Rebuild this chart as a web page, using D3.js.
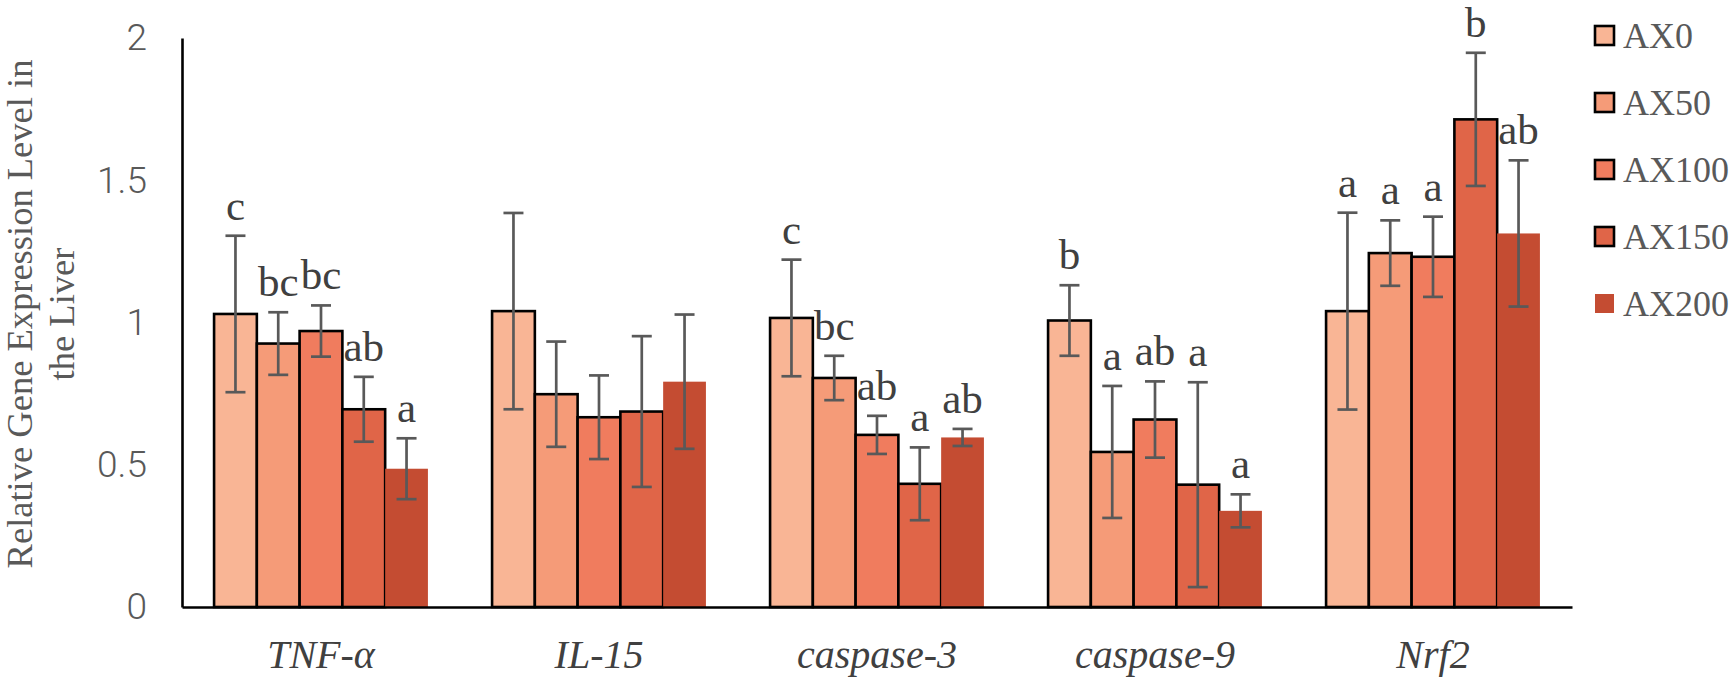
<!DOCTYPE html>
<html>
<head>
<meta charset="utf-8">
<script src="https://cdn.jsdelivr.net/npm/d3@7"></script>
<style>
    body { margin: 0; background: #fff; }
    svg { display: block; }
</style>
</head>
<body>
<div id="chart"></div>
<script>
// genes on the x axis, treatment groups as series
var genes = ["TNF-α", "IL-15", "caspase-3", "caspase-9", "Nrf2"];
var groups = ["AX0", "AX50", "AX100", "AX150", "AX200"];

// mean relative expression, one array per group (order follows genes)
var AX0 = [1.03, 1.04, 1.016, 1.007, 1.04];
var AX50 = [0.926, 0.748, 0.805, 0.545, 1.244];
var AX100 = [0.97, 0.667, 0.605, 0.659, 1.231];
var AX150 = [0.695, 0.687, 0.433, 0.43, 1.714];
var AX200 = [0.486, 0.792, 0.596, 0.338, 1.313];

// error bar half-lengths
var AX0_err = [0.275, 0.345, 0.205, 0.124, 0.346];
var AX50_err = [0.11, 0.185, 0.078, 0.232, 0.115];
var AX100_err = [0.09, 0.147, 0.067, 0.134, 0.141];
var AX150_err = [0.114, 0.265, 0.128, 0.36, 0.234];
var AX200_err = [0.107, 0.236, 0.03, 0.058, 0.257];

// significance letters
var AX0_sig = ["c", "", "c", "b", "a"];
var AX50_sig = ["bc", "", "bc", "a", "a"];
var AX100_sig = ["bc", "", "ab", "ab", "a"];
var AX150_sig = ["ab", "", "a", "a", "b"];
var AX200_sig = ["a", "", "ab", "a", "ab"];

var yTicks = [0, 0.5, 1, 1.5, 2];
var yTitle = ["Relative Gene Expression Level in", "the Liver"];

var colors = ["#f9b595", "#f59b78", "#f07c5e", "#e06548", "#c44c32"];
var outlined = [true, true, true, true, false];

var means = [AX0, AX50, AX100, AX150, AX200],
    errs = [AX0_err, AX50_err, AX100_err, AX150_err, AX200_err],
    sigs = [AX0_sig, AX50_sig, AX100_sig, AX150_sig, AX200_sig];

var rows = [];
genes.forEach(function(g, gi) {
    groups.forEach(function(s, si) {
        rows.push({gene: g, group: s, si: si, value: means[si][gi], err: errs[si][gi], sig: sigs[si][gi]});
    });
});

var svg = d3.select("#chart").append("svg").attr("width", 1730).attr("height", 680),
    margin = {top: 38, right: 158, bottom: 73, left: 182},
    width = 1730 - margin.left - margin.right,
    height = 680 - margin.top - margin.bottom,
    g = svg.append("g").attr("transform", "translate(" + margin.left + "," + margin.top + ")");

var x0 = d3.scaleBand().domain(genes).range([0, width]).paddingInner(1.5 / 6.5).paddingOuter(0.75 / 6.5),
    x1 = d3.scaleBand().domain(groups).range([0, x0.bandwidth()]),
    y = d3.scaleLinear().domain([0, 2]).range([height, 0]),
    z = d3.scaleOrdinal().domain(groups).range(colors);

// bars
g.selectAll(".bar")
    .data(rows)
    .enter().append("rect")
    .attr("class", "bar")
    .attr("x", function(d) { return x0(d.gene) + x1(d.group); })
    .attr("y", function(d) { return y(d.value); })
    .attr("width", x1.bandwidth())
    .attr("height", function(d) { return height - y(d.value); })
    .style("fill", function(d) { return z(d.group); })
    .style("stroke", function(d) { return outlined[d.si] ? "#000" : "none"; })
    .style("stroke-width", 2.6);

// error bars
var eb = g.selectAll(".err")
    .data(rows)
    .enter().append("g")
    .attr("class", "err")
    .attr("transform", function(d) { return "translate(" + (x0(d.gene) + x1(d.group) + x1.bandwidth() / 2) + ",0)"; })
    .style("stroke", "#595959")
    .style("stroke-width", 2.7);

eb.append("line")
    .attr("y1", function(d) { return y(d.value + d.err); })
    .attr("y2", function(d) { return y(d.value - d.err); });
eb.append("line")
    .attr("x1", -10).attr("x2", 10)
    .attr("y1", function(d) { return y(d.value + d.err); })
    .attr("y2", function(d) { return y(d.value + d.err); });
eb.append("line")
    .attr("x1", -10).attr("x2", 10)
    .attr("y1", function(d) { return y(d.value - d.err); })
    .attr("y2", function(d) { return y(d.value - d.err); });

// letters
g.selectAll(".sig")
    .data(rows.filter(function(d) { return d.sig; }))
    .enter().append("text")
    .attr("class", "sig")
    .attr("x", function(d) { return x0(d.gene) + x1(d.group) + x1.bandwidth() / 2; })
    .attr("y", function(d) { return y(d.value + d.err) - 16; })
    .attr("text-anchor", "middle")
    .style("font", "43px 'Liberation Serif', 'Times New Roman', serif")
    .style("fill", "#404040")
    .text(function(d) { return d.sig; });

// y axis
var yAxis = g.append("g")
    .attr("class", "axis axis--y")
    .call(d3.axisLeft(y).tickValues(yTicks).tickSize(0).tickPadding(35).tickFormat(d3.format("")));
yAxis.select(".domain").style("stroke", "#000").style("stroke-width", 2.6);
yAxis.selectAll("text")
    .style("font-family", "Roboto, 'Noto Sans', sans-serif")
    .style("font-weight", 300)
    .style("font-size", "37px")
    .style("fill", "#595959");

// x axis
var xAxis = g.append("g")
    .attr("class", "axis axis--x")
    .attr("transform", "translate(0," + height + ")")
    .call(d3.axisBottom(x0).tickSize(0).tickPadding(33));
xAxis.select(".domain").style("stroke", "#000").style("stroke-width", 2.6);
xAxis.selectAll("text")
    .style("font-family", "'Liberation Serif', 'Times New Roman', serif")
    .style("font-style", "italic")
    .style("font-size", "40px")
    .style("fill", "#404040");

// y title
svg.selectAll(".ytitle")
    .data(yTitle)
    .enter().append("text")
    .attr("class", "ytitle")
    .attr("transform", function(d, i) { return "translate(" + (32 + i * 42) + ",314) rotate(-90)"; })
    .attr("text-anchor", "middle")
    .style("font", "36.5px 'Liberation Serif', 'Times New Roman', serif")
    .style("fill", "#595959")
    .text(function(d) { return d; });

// legend
var legend = svg.selectAll(".legend")
    .data(groups)
    .enter().append("g")
    .attr("class", "legend")
    .attr("transform", function(d, i) { return "translate(1595," + (36 + i * 67) + ")"; });

legend.append("rect")
    .attr("x", 0).attr("y", -10)
    .attr("width", 19).attr("height", 19)
    .style("fill", function(d) { return z(d); })
    .style("stroke", function(d, i) { return outlined[i] ? "#000" : "none"; })
    .style("stroke-width", 2.6);

legend.append("text")
    .attr("x", 28)
    .attr("dy", "0.34em")
    .style("font", "36px 'Liberation Serif', 'Times New Roman', serif")
    .style("fill", "#595959")
    .text(function(d) { return d; });
</script>
</body>
</html>
